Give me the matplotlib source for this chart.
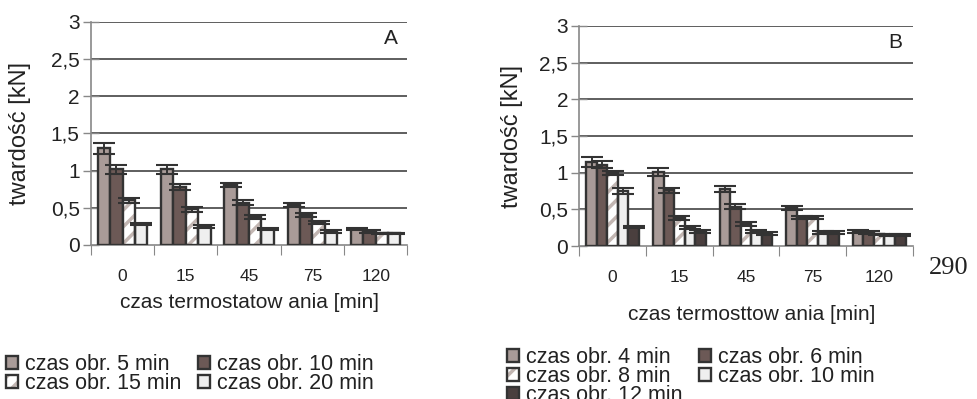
import numpy as np
import matplotlib.pyplot as plt
from matplotlib.patches import Patch
from matplotlib.ticker import FixedLocator, FuncFormatter
from matplotlib.legend_handler import HandlerTuple

plt.rcParams['font.family'] = ['Liberation Sans', 'DejaVu Sans']
plt.rcParams['hatch.linewidth'] = 2.5

# czas termostatowania [min]
groups = ['0', '15', '45', '75', '120']

# panel A: czas obrobki 5, 10, 15, 20 min
labels_a = ['czas obr. 5 min', 'czas obr. 10 min', 'czas obr. 15 min', 'czas obr. 20 min']
vals_a = [
    [1.30, 1.02, 0.81, 0.54, 0.21],
    [1.02, 0.78, 0.57, 0.40, 0.18],
    [0.60, 0.48, 0.38, 0.30, 0.155],
    [0.28, 0.25, 0.22, 0.18, 0.155],
]
err_a = [
    [0.07, 0.06, 0.03, 0.03, 0.015],
    [0.06, 0.04, 0.03, 0.03, 0.015],
    [0.03, 0.03, 0.03, 0.02, 0.01],
    [0.015, 0.02, 0.015, 0.015, 0.01],
]

# panel B: czas obrobki 4, 6, 8, 10, 12 min
labels_b = ['czas obr. 4 min', 'czas obr. 6 min', 'czas obr. 8 min', 'czas obr. 10 min', 'czas obr. 12 min']
vals_b = [
    [1.15, 1.01, 0.78, 0.52, 0.20],
    [1.11, 0.76, 0.54, 0.39, 0.18],
    [1.00, 0.38, 0.30, 0.39, 0.16],
    [0.75, 0.25, 0.20, 0.18, 0.155],
    [0.26, 0.20, 0.17, 0.18, 0.155],
]
err_b = [
    [0.07, 0.05, 0.04, 0.03, 0.02],
    [0.05, 0.03, 0.03, 0.02, 0.02],
    [0.03, 0.03, 0.03, 0.02, 0.01],
    [0.04, 0.02, 0.02, 0.02, 0.01],
    [0.01, 0.015, 0.02, 0.02, 0.01],
]

styles = [
    dict(fc='#a99b98', hatch=None),
    dict(fc='#6c5956', hatch=None),
    dict(fc='white', hatch='//'),
    dict(fc='#efefef', hatch=None),
    dict(fc='#4a3f3e', hatch=None),
]
edge = '#333333'
hatch_col = '#c2b6b2'
txt = '#222222'


def draw(ax, vals, errs, span, tag):
    n = len(vals)
    w = span / n
    x = np.arange(len(groups))
    handles = []
    for i, (v, e) in enumerate(zip(vals, errs)):
        st = styles[i]
        xs = x - span / 2 + w * (i + 0.5)
        if st['hatch']:
            ax.bar(xs, v, w, color='white', edgecolor=hatch_col, hatch=st['hatch'], lw=0, zorder=3)
            ax.bar(xs, v, w, fill=False, edgecolor=edge, lw=1.7, zorder=4)
            handles.append((Patch(fc='white', ec=hatch_col, hatch='//', lw=0),
                            Patch(fill=False, ec=edge, lw=1.7)))
        else:
            ax.bar(xs, v, w, color=st['fc'], edgecolor=edge, lw=1.7, zorder=3)
            handles.append(Patch(fc=st['fc'], ec=edge, lw=1.7))
        ax.errorbar(xs, v, yerr=e, fmt='none', ecolor=edge, elinewidth=1.4,
                    capsize=8, capthick=1.5, zorder=5)

    ax.set_xlim(-0.5, len(groups) - 0.5)
    ax.set_ylim(0, 3)
    ax.set_yticks(np.arange(0, 3.01, 0.5))
    ax.yaxis.set_major_formatter(FuncFormatter(lambda v, p: ('%g' % v).replace('.', ',')))
    for y in np.arange(0.5, 3.01, 0.5):
        ax.axhline(y, color='#333333', lw=1.1, zorder=1)
    ax.xaxis.set_major_locator(FixedLocator(np.arange(-0.5, len(groups), 1.0)))
    ax.xaxis.set_minor_locator(FixedLocator(x))
    ax.set_xticklabels([], minor=False)
    ax.set_xticklabels(groups, minor=True)
    ax.tick_params(axis='x', which='major', length=7, direction='out', color='#888888')
    ax.tick_params(axis='x', which='minor', length=0, pad=17, labelsize=12.5, labelcolor=txt)
    ax.tick_params(axis='y', length=12, direction='inout', color='#888888', width=1.0,
                   pad=2, labelsize=15, labelcolor=txt)
    for s in ['top', 'right']:
        ax.spines[s].set_visible(False)
    for s in ['left', 'bottom']:
        ax.spines[s].set_color('#888888')
        ax.spines[s].set_linewidth(1.2)
    ax.text(0.947, 0.927, tag, transform=ax.transAxes, fontsize=15, color=txt,
            ha='center', va='center')
    return handles


fig = plt.figure(figsize=(9.77, 3.99), dpi=100)
axA = fig.add_axes([0.093, 0.386, 0.324, 0.559])
axB = fig.add_axes([0.593, 0.383, 0.341, 0.552])

hA = draw(axA, vals_a, err_a, 0.78, 'A')
hB = draw(axB, vals_b, err_b, 0.79, 'B')

axA.set_ylabel('twardość [kN]', fontsize=17, color=txt)
axA.yaxis.set_label_coords(-0.19, 0.5)
axB.set_ylabel('twardość [kN]', fontsize=17, color=txt)
axB.yaxis.set_label_coords(-0.168, 0.5)

fig.text(250 / 977, 1 - 302 / 399, 'czas termostatow ania [min]', fontsize=15,
         ha='center', va='center', color=txt)
fig.text(752 / 977, 1 - 315 / 399, 'czas termosttow ania [min]', fontsize=15,
         ha='center', va='center', color=txt)
fig.text(949 / 977, 1 - 268 / 399, '290', fontsize=19, family='Liberation Serif',
         ha='center', va='center', color=txt)

legkw = dict(frameon=False, ncol=2, fontsize=15.5, handlelength=0.55, handleheight=0.55,
             handletextpad=0.35, columnspacing=0.75, labelspacing=-0.1, borderpad=0,
             borderaxespad=0, handler_map={tuple: HandlerTuple(ndivide=1, pad=0)},
             labelcolor=txt)
ordA = [0, 2, 1, 3]
fig.legend([hA[i] for i in ordA], [labels_a[i] for i in ordA], loc='upper left',
           bbox_to_anchor=(6 / 977, 1 - 354 / 399), **legkw)
ordB = [0, 2, 4, 1, 3]
fig.legend([hB[i] for i in ordB], [labels_b[i] for i in ordB], loc='upper left',
           bbox_to_anchor=(507 / 977, 1 - 347 / 399), **legkw)

fig.savefig('out.png', dpi=100)
